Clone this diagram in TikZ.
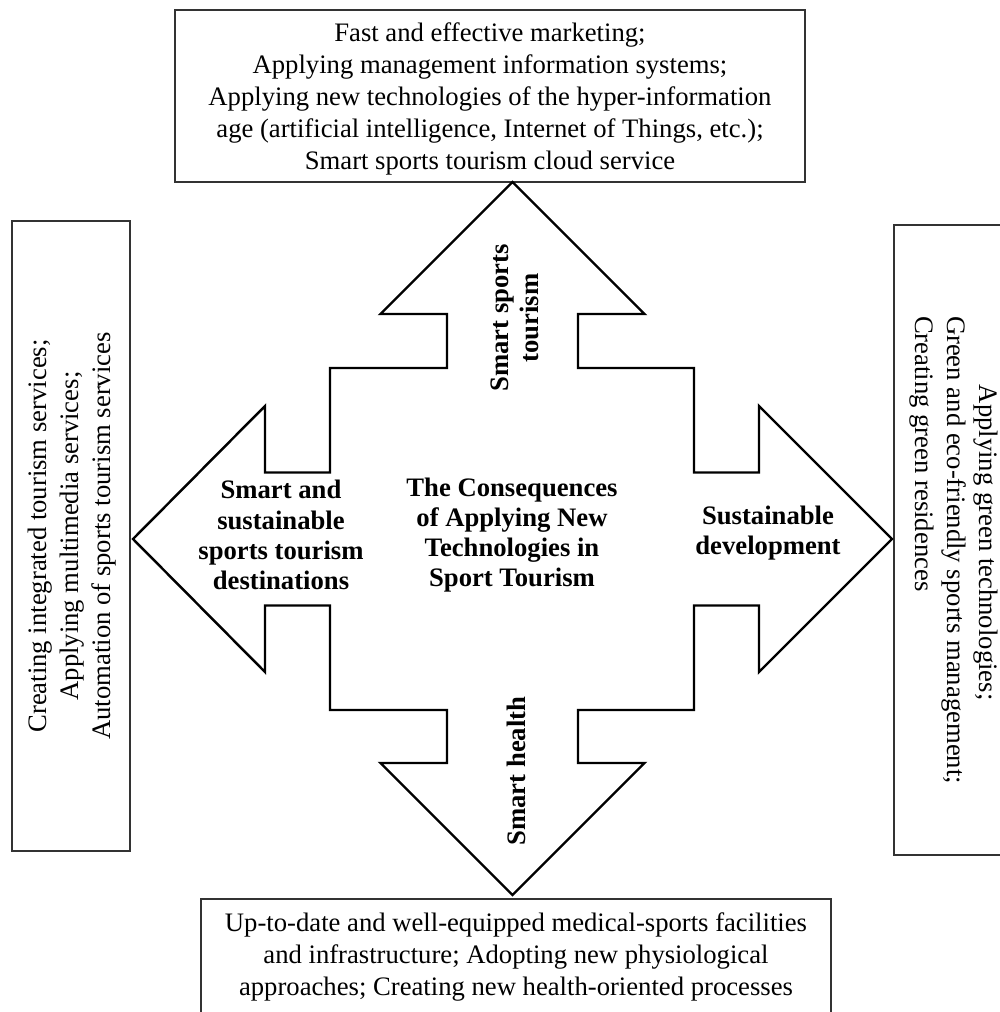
\documentclass[tikz,border=0pt]{standalone}
\usepackage{fontspec}
\setmainfont{Liberation Serif}
\begin{document}
\begin{tikzpicture}[x=0.45pt,y=-0.45pt,
  boxnode/.style={draw=black!80, line width=0.6pt, rectangle, inner sep=0pt},
  plaintext/.style={font=\fontsize{12}{14.4}\selectfont, align=center, inner sep=0pt},
  boldtext/.style={font=\bfseries\fontsize{12}{13.6}\selectfont, align=center, inner sep=0pt},
  arrowline/.style={draw=black, line width=1.1pt, line join=miter}]
\useasboundingbox (0,0) rectangle (1000,1012);
\clip (0,0) rectangle (1000,1012);
% boxes
\node[boxnode, minimum width=283.5pt, minimum height=77.4pt] (topbox) at (490,96) {};
\node[boxnode, minimum width=53.1pt, minimum height=283.5pt] (leftbox) at (71,536) {};
\node[boxnode, minimum width=54pt, minimum height=283.5pt] (rightbox) at (954,540) {};
\node[boxnode, minimum width=283.5pt, minimum height=56.7pt] (botbox) at (516,962) {};
% box texts
\node[plaintext] (toptext) at (490,99) {Fast and effective marketing;\\Applying management information systems;\\Applying new technologies of the hyper-information\\age (artificial intelligence, Internet of Things, etc.);\\Smart sports tourism cloud service};
\node[plaintext, rotate=90] (lefttext) at (72,536) {Creating integrated tourism services;\\Applying multimedia services;\\Automation of sports tourism services};
\node[plaintext, rotate=-90, align=left] (righttext) at (954,550) {\hspace*{31pt}Applying green technologies;\\Green and eco-friendly sports management;\\Creating green residences};
\node[plaintext] (bottext) at (516,957) {Up-to-date and well-equipped medical-sports facilities\\and infrastructure; Adopting new physiological\\approaches; Creating new health-oriented processes};
% four-way arrow
\draw[arrowline] (512.5,182) -- (644.5,314) -- (578,314) -- (578,368) -- (694,368) -- (694,472.5) -- (759,472.5) -- (759,406) -- (892,539) -- (759,672) -- (759,605.5) -- (694,605.5) -- (694,710) -- (578,710) -- (578,763) -- (644.5,763) -- (512.5,895) -- (380.5,763) -- (447,763) -- (447,710) -- (330,710) -- (330,605.5) -- (265,605.5) -- (265,672) -- (133,539) -- (265,406) -- (265,472.5) -- (330,472.5) -- (330,368) -- (447,368) -- (447,314) -- (380.5,314) -- cycle;
% arrow labels
\node[boldtext] (centerlbl) at (512,535) {The Consequences\\of Applying New\\Technologies in\\Sport Tourism};
\node[boldtext] (leftlbl) at (281,535) {Smart and\\sustainable\\sports tourism\\destinations};
\node[boldtext] (rightlbl) at (768,533) {Sustainable\\development};
\node[boldtext, rotate=90] (toplbl) at (515,318) {Smart sports\\tourism};
\node[boldtext, rotate=90] (botlbl) at (516,771) {Smart health};
\end{tikzpicture}
\end{document}
